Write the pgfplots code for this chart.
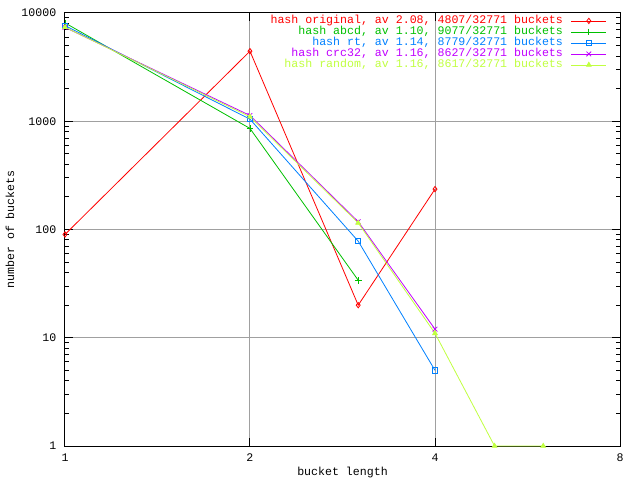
\documentclass[border=0pt]{standalone}
\usepackage{pgfplots}
\pgfplotsset{compat=1.18}
\usepackage{fontspec}
\setmainfont{Liberation Mono}
\definecolor{gred}{HTML}{FF0000}
\definecolor{ggreen}{HTML}{00C000}
\definecolor{gblue}{HTML}{0080FF}
\definecolor{gpurple}{HTML}{C000FF}
\definecolor{gyellow}{HTML}{C0FF40}
\definecolor{ggrid}{HTML}{A0A0A0}
\begin{document}
\begin{tikzpicture}
\useasboundingbox (-48.75pt,-25.5pt) rectangle (431.25pt,334.5pt);
\begin{axis}[
  scale only axis,
  width=416.25pt, height=324.75pt,
  xmode=log, ymode=log, log basis x=2,
  xmin=1, xmax=8, ymin=1, ymax=10000,
  xtick={1,2,4,8}, xticklabels={1,2,4,8},
  ytick={1,10,100,1000,10000}, yticklabels={1,10,100,1000,10000},
  minor x tick num=0,
  tick align=inside,
  major tick length=6pt, minor tick length=3pt,
  grid=major,
  major grid style={ggrid, line width=0.75pt},
  axis line style={line width=0.75pt},
  every tick/.style={black, line width=0.75pt},
  font=\fontsize{8.7}{10}\selectfont,
  /pgf/number format/assume math mode=true,
  xlabel={bucket length},
  ylabel={number of buckets},
  xlabel style={at={(axis description cs:0.5,0)}, anchor=center, yshift=-19.5pt},
  ylabel style={at={([xshift=-41.25pt]axis description cs:0,0.5)}, anchor=center},
  xticklabel style={yshift=-2pt},
  yticklabel style={xshift=-3pt},
  clip=false,
  legend cell align=right,
  legend plot pos=right,
  legend style={draw=none, fill=none, at={(1,1)}, anchor=north east,
    xshift=-9.75pt, yshift=-2pt, inner sep=0pt, row sep=0.75pt,
    nodes={inner sep=0pt, text height=6pt, text depth=1.5pt},
    /tikz/every odd column/.style={column sep=6pt}},
  legend image code/.code={\draw[mark repeat=2,mark phase=2] plot coordinates {(0pt,0pt) (13.125pt,0pt) (26.25pt,0pt)};},
  every axis plot/.append style={line width=0.6pt},
]
\addplot[gred, mark=diamond, mark size=2pt, mark options={solid}] coordinates {(1,90) (2,4440) (3,20) (4,236)};
\addlegendentry[text=gred]{hash original, av 2.08, 4807/32771 buckets}
\addplot[ggreen, mark=+, mark size=2.5pt] coordinates {(1,8100) (2,858) (3,34)};
\addlegendentry[text=ggreen]{hash abcd, av 1.10, 9077/32771 buckets}
\addplot[gblue, mark=square, mark size=2pt] coordinates {(1,7650) (2,1045) (3,78) (4,5)};
\addlegendentry[text=gblue]{hash rt, av 1.14, 8779/32771 buckets}
\addplot[gpurple, mark=x, mark size=2.5pt] coordinates {(1,7366) (2,1131) (3,118) (4,12)};
\addlegendentry[text=gpurple]{hash crc32, av 1.16, 8627/32771 buckets}
\addplot[gyellow, mark=triangle*, mark size=2pt] coordinates {(1,7389) (2,1100) (3,115) (4,11) (5,1) (6,1)};
\addlegendentry[text=gyellow]{hash random, av 1.16, 8617/32771 buckets}
\end{axis}
\end{tikzpicture}
\end{document}
